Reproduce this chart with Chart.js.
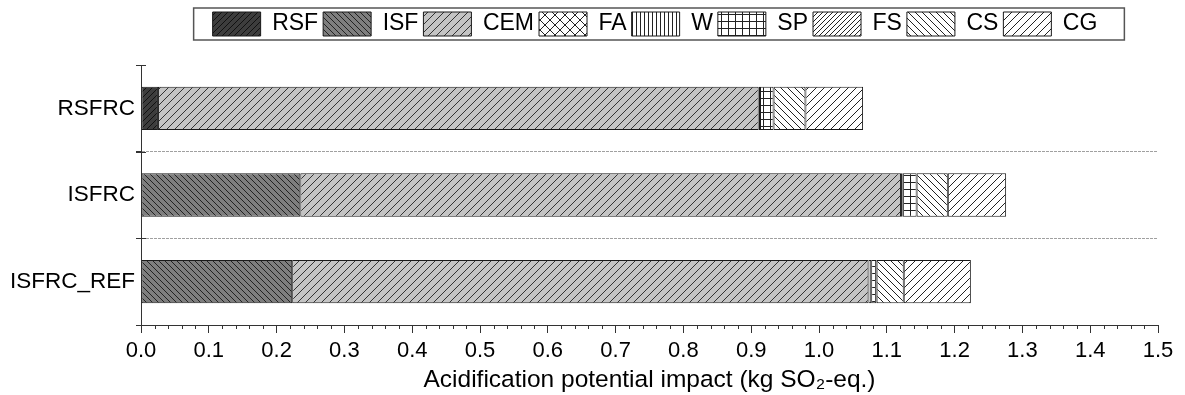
<!DOCTYPE html>
<html>
<head>
<meta charset="utf-8">
<script src="https://cdn.jsdelivr.net/npm/chart.js@4/dist/chart.umd.min.js"></script>
<style>
  body { margin: 0; background: #fff; }
</style>
</head>
<body>
<canvas id="chart" width="1185" height="395"></canvas>
<script>
const categories = ['RSFRC', 'ISFRC', 'ISFRC_REF'];
const seriesNames = ['RSF', 'ISF', 'CEM', 'FA', 'W', 'SP', 'FS', 'CS', 'CG'];
const rsf = [0.025, null, null];
const isf = [null, 0.235, 0.223];
const cem = [0.886, 0.886, 0.850];
const fa = [null, null, null];
const w = [0.002, 0.002, 0.004];
const sp = [0.020, 0.021, 0.008];
const fs = [null, null, null];
const cs = [0.047, 0.046, 0.040];
const cg = [0.085, 0.086, 0.099];
const xTicks = { min: 0, max: 1.5, step: 0.1, minor: 0.02 };
const FONT = "'Liberation Sans', Arial, sans-serif";

function makePattern(bg, size, line, draw) {
    const c = document.createElement('canvas');
    c.width = size; c.height = size;
    const g = c.getContext('2d');
    g.fillStyle = bg;
    g.fillRect(0, 0, size, size);
    g.strokeStyle = line;
    g.lineWidth = 1;
    draw(g, size);
    return g.createPattern(c, 'repeat');
}
const fwd = (g, s) => { g.beginPath(); for (const o of [-s, 0, s]) { g.moveTo(o, s); g.lineTo(o + s, 0); } g.stroke(); };
const back = (g, s) => { g.beginPath(); for (const o of [-s, 0, s]) { g.moveTo(o, 0); g.lineTo(o + s, s); } g.stroke(); };
const vert = (g, s) => { g.beginPath(); g.moveTo(0.5, 0); g.lineTo(0.5, s); g.stroke(); };
const cells = (g, s) => { g.beginPath(); g.moveTo(0.5, 0); g.lineTo(0.5, s); g.moveTo(0, 0.5); g.lineTo(s, 0.5); g.stroke(); };
const cross = (g, s) => { fwd(g, s); back(g, s); };

const fills = [
    makePattern('#3d3d3d', 6, '#111', fwd),
    makePattern('#7e7e7e', 6, '#222', back),
    makePattern('#c4c4c4', 8, '#333', fwd),
    makePattern('#fff', 10, '#222', cross),
    makePattern('#fff', 4, '#222', vert),
    makePattern('#fff', 7, '#222', cells),
    makePattern('#fff', 5, '#222', fwd),
    makePattern('#fff', 7, '#222', back),
    makePattern('#fff', 8, '#222', fwd)
];
const values = [rsf, isf, cem, fa, w, sp, fs, cs, cg];

const datasets = seriesNames.map((name, i) => ({
    label: name,
    data: values[i],
    backgroundColor: fills[i],
    borderColor: '#1a1a1a',
    borderWidth: 1,
    borderSkipped: false
}));

// legend placement + frame, minor ticks on x, crossing ticks on y
const extras = {
    id: 'extras',
    afterLayout(chart) {
        const lg = chart.legend;
        const dy = lg.top - 7;
        lg.top -= dy;
        lg.bottom -= dy;
        lg.left = 150;
        lg.right = 1160;
    },
    afterDraw(chart) {
        const ctx = chart.ctx;
        const hb = chart.legend.legendHitBoxes;
        if (hb && hb.length) {
            const last = hb[hb.length - 1];
            const x1 = hb[0].left - 19, x2 = last.left + last.width + 27;
            const y1 = hb[0].top - 4, y2 = hb[0].top + 28;
            ctx.save();
            ctx.strokeStyle = '#555';
            ctx.lineWidth = 1.5;
            ctx.strokeRect(x1, y1, x2 - x1, y2 - y1);
            ctx.restore();
        }
        const x = chart.scales.x;
        const y = chart.scales.y;
        const n = Math.round((xTicks.max - xTicks.min) / xTicks.minor);
        const per = Math.round(xTicks.step / xTicks.minor);
        ctx.save();
        ctx.strokeStyle = '#333';
        ctx.lineWidth = 1;
        ctx.beginPath();
        for (let i = 0; i <= n; i++) {
            if (i % per === 0) continue;
            const px = Math.round(x.getPixelForValue(xTicks.min + i * xTicks.minor)) + 0.5;
            ctx.moveTo(px, x.top);
            ctx.lineTo(px, x.top + 4);
        }
        for (let i = 0; i < categories.length; i++) {
            const py = Math.round(y.getPixelForValue(i - 0.5)) + 0.5;
            ctx.moveTo(x.left - 5, py);
            ctx.lineTo(x.left + 5, py);
        }
        ctx.stroke();
        ctx.restore();
    }
};

new Chart(document.getElementById('chart'), {
    type: 'bar',
    data: { labels: categories, datasets },
    plugins: [extras],
    options: {
        indexAxis: 'y',
        responsive: false,
        animation: false,
        devicePixelRatio: 1,
        layout: { padding: { top: 26, right: 27, left: 0, bottom: 0 } },
        datasets: { bar: { categoryPercentage: 1, barPercentage: 0.5 } },
        plugins: {
            legend: {
                position: 'top',
                labels: {
                    boxWidth: 48,
                    boxHeight: 24,
                    padding: 5,
                    color: '#000',
                    font: { family: FONT, size: 23 }
                }
            },
            tooltip: { enabled: false }
        },
        scales: {
            x: {
                stacked: true,
                min: xTicks.min,
                max: xTicks.max,
                afterFit: s => { s.height = 70; },
                ticks: {
                    stepSize: xTicks.step,
                    padding: 5,
                    color: '#000',
                    font: { family: FONT, size: 22 },
                    maxRotation: 0,
                    callback: v => Number(v).toFixed(1)
                },
                grid: { drawOnChartArea: false, tickLength: 8, tickColor: '#333' },
                border: { color: '#333', width: 1 },
                title: {
                    display: true,
                    text: 'Acidification potential impact (kg SO₂-eq.)',
                    color: '#000',
                    font: { family: FONT, size: 24.5 },
                    padding: { top: 0, bottom: 0 }
                }
            },
            y: {
                stacked: true,
                afterFit: s => { s.width = 141; },
                ticks: {
                    padding: 1,
                    color: '#000',
                    font: { family: FONT, size: 22.5 }
                },
                grid: {
                    offset: true,
                    tickLength: 5,
                    tickColor: '#333',
                    color: c => (c.index > 0 && c.index < categories.length) ? '#a0a0a0' : 'rgba(0,0,0,0)'
                },
                border: { color: '#333', width: 1, dash: [3, 1] }
            }
        }
    }
});
</script>
</body>
</html>
